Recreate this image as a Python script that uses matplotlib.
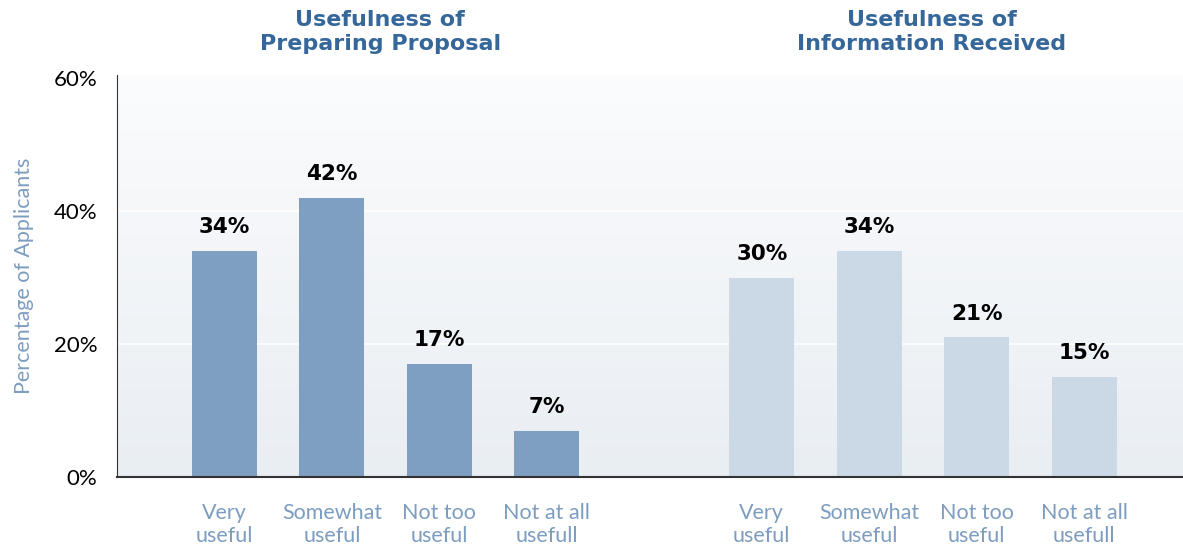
import numpy as np
import matplotlib.pyplot as plt

# data
categories = ['Very\nuseful', 'Somewhat\nuseful', 'Not too\nuseful', 'Not at all\nusefull']
proposal = [34, 42, 17, 7]
information = [30, 34, 21, 15]
titles = ['Usefulness of\nPreparing Proposal', 'Usefulness of\nInformation Received']
yticks = [0, 20, 40, 60]

dark_blue = '#7f9fc2'
light_blue = '#cbd9e6'
title_col = '#36679a'
label_col = '#7d9dc0'

plt.rcParams['font.family'] = ['Lato', 'DejaVu Sans']

fig = plt.figure(figsize=(11.83, 5.5), dpi=100)
ax = fig.add_axes([0.0989, 0.1327, 0.9011, 0.7309])

x1 = np.arange(len(proposal))
x2 = x1 + len(proposal) + 1
width = 0.605

# background gradient
grad = np.linspace(0, 1, 256).reshape(-1, 1)
top = np.array([0.985, 0.988, 0.992])
bot = np.array([0.914, 0.933, 0.953])
img = top + (bot - top) * grad[:, :, None] * np.ones((1, 1, 3))
ax.imshow(img, extent=[0, 1, 0, 1], transform=ax.transAxes, aspect='auto', zorder=0)

for y in [20, 40]:
    ax.axhline(y, color='white', lw=1.2, zorder=1)

b1 = ax.bar(x1, proposal, width, color=dark_blue, zorder=2)
b2 = ax.bar(x2, information, width, color=light_blue, zorder=2)

for bars, vals in [(b1, proposal), (b2, information)]:
    for r, v in zip(bars, vals):
        ax.annotate('%d%%' % v, (r.get_x() + r.get_width() / 2, v),
                    xytext=(0, 10), textcoords='offset points',
                    ha='center', va='bottom', fontsize=15.5, fontweight='bold',
                    color='black', family='DejaVu Sans')

ax.set_xlim(-1.0, 8.92)
ax.set_ylim(0, 60.5)
ax.set_yticks(yticks)
ax.set_yticklabels(['%d%%' % t for t in yticks], fontsize=16, color='black')
ax.set_xticks(list(x1) + list(x2))
ax.set_xticklabels(categories * 2, fontsize=15.5, color=label_col, linespacing=1.15)
ax.tick_params(length=0, axis='both')
ax.tick_params(axis='x', pad=19)
ax.tick_params(axis='y', pad=14)

for s in ['top', 'right']:
    ax.spines[s].set_visible(False)
ax.spines['left'].set_color('#333333')
ax.spines['bottom'].set_color('#333333')
ax.spines['bottom'].set_linewidth(1.5)

ax.set_ylabel('Percentage of Applicants', fontsize=15.5, color=label_col, labelpad=14)

ax.text(x1.mean() - 0.05, 63.6, titles[0], ha='center', va='bottom', fontsize=16,
        fontweight='bold', color=title_col, linespacing=1.3, clip_on=False,
        family='DejaVu Sans')
ax.text(x2.mean() + 0.08, 63.6, titles[1], ha='center', va='bottom', fontsize=16,
        fontweight='bold', color=title_col, linespacing=1.3, clip_on=False,
        family='DejaVu Sans')

fig.savefig('out.png', dpi=100)
